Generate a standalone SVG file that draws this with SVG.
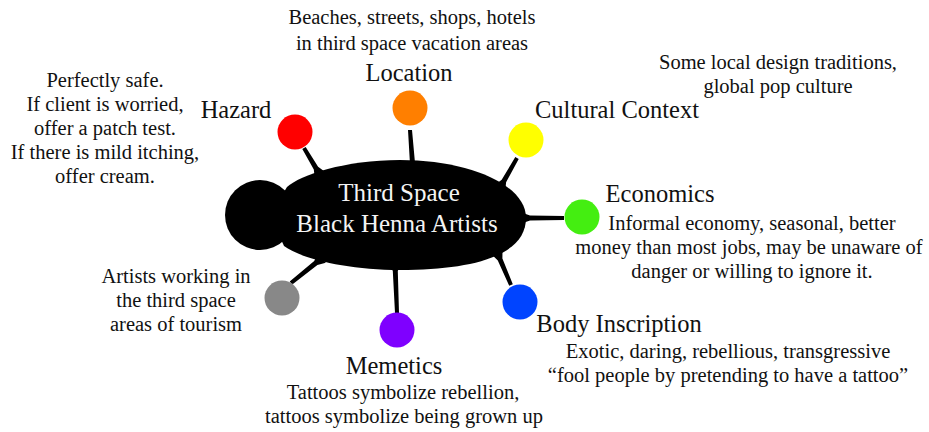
<svg xmlns="http://www.w3.org/2000/svg" width="929" height="432" viewBox="0 0 929 432">
<style>
text{font-family:"Liberation Serif",serif;fill:#111;text-anchor:middle}
.h{font-size:24.5px}
.s{font-size:20.5px}
.c{font-size:25px;fill:#f4f4f4}
.spike{fill:#000}
</style>
<rect width="929" height="432" fill="#fff"/>
<g id="connectors">
<polygon class="spike" points="302.3,149 313.8,169.4 314.8,178.1 325.2,171.9 318.1,166.8 305.7,147"/>
<polygon class="spike" points="408,130 409.9,162.2 407,170.5 419,169.5 414.9,161.8 412,130"/>
<polygon class="spike" points="515.3,157 501.7,179.8 494.8,185.1 505.2,190.9 506.1,182.2 518.7,159"/>
<polygon class="spike" points="564,216 530,215.5 520,212 520,224 530,220.5 564,220"/>
<polygon class="spike" points="512.8,284.2 502.4,258.4 502.5,249.7 491.5,254.3 497.8,260.4 509.2,285.8"/>
<polygon class="spike" points="399,313 397.8,271 401,263 389,263 392.8,271 395,313"/>
<polygon class="spike" points="292.3,284.6 317.4,265 325.8,262.7 318.2,253.3 314.2,261 289.7,281.4"/>
</g>
<g id="center">
<circle cx="260" cy="215" r="35" fill="#000"/>
<path d="M287,187 C300,175 345,160 400,160 C470,160 526,185 526,218 C526,255 475,270 400,270 C345,270 300,258 284,246 L270,215 Z" fill="#000"/>
<text class="c" x="399" y="201">Third Space</text>
<text class="c" x="397" y="232">Black Henna Artists</text>
</g>
<g id="hazard">
<circle cx="295" cy="132" r="17.5" fill="#ff0000"/>
<text class="h" x="236" y="118">Hazard</text>
<text class="s" x="105" y="87">Perfectly safe.</text>
<text class="s" x="105" y="111">If client is worried,</text>
<text class="s" x="105" y="135">offer a patch test.</text>
<text class="s" x="105" y="159">If there is mild itching,</text>
<text class="s" x="105" y="183">offer cream.</text>
</g>
<g id="location">
<circle cx="410" cy="108" r="17.5" fill="#ff7f00"/>
<text class="h" x="409" y="81">Location</text>
<text class="s" x="412" y="24">Beaches, streets, shops, hotels</text>
<text class="s" x="412" y="50">in third space vacation areas</text>
</g>
<g id="cultural">
<circle cx="526" cy="140" r="17.5" fill="#ffff00"/>
<text class="h" x="617" y="118">Cultural Context</text>
<text class="s" x="778" y="69">Some local design traditions,</text>
<text class="s" x="778" y="93">global pop culture</text>
</g>
<g id="economics">
<circle cx="582" cy="217" r="17.5" fill="#44ee11"/>
<text class="h" x="660" y="202">Economics</text>
<text class="s" x="752" y="230">Informal economy, seasonal, better</text>
<text class="s" x="749" y="254">money than most jobs, may be unaware of</text>
<text class="s" x="752" y="278">danger or willing to ignore it.</text>
</g>
<g id="body">
<circle cx="520" cy="302" r="17.5" fill="#0044ff"/>
<text class="h" x="619" y="332">Body Inscription</text>
<text class="s" x="728" y="358">Exotic, daring, rebellious, transgressive</text>
<text class="s" x="728" y="382">“fool people by pretending to have a tattoo”</text>
</g>
<g id="memetics">
<circle cx="397" cy="330" r="17.5" fill="#7f00ff"/>
<text class="h" x="394" y="374">Memetics</text>
<text class="s" x="403" y="399">Tattoos symbolize rebellion,</text>
<text class="s" x="404" y="423">tattoos symbolize being grown up</text>
</g>
<g id="artists">
<circle cx="282" cy="298" r="17.5" fill="#888888"/>
<text class="s" x="176" y="283">Artists working in</text>
<text class="s" x="176" y="307">the third space</text>
<text class="s" x="176" y="331">areas of tourism</text>
</g>
</svg>
